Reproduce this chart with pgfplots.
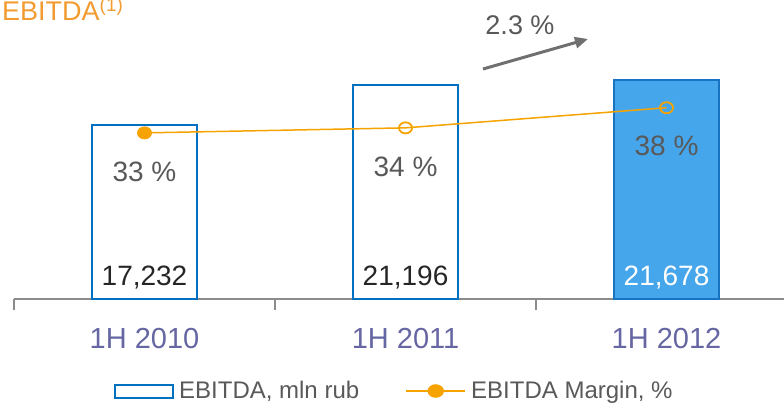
\documentclass[border=0pt]{standalone}
\usepackage{pgfplots}
\pgfplotsset{compat=1.18}
\usetikzlibrary{arrows.meta}
\usepackage{fontspec}
\setmainfont{Liberation Sans}
\definecolor{barblue}{RGB}{0,112,192}
\definecolor{barthreefill}{RGB}{70,166,235}
\definecolor{barthreeedge}{RGB}{25,115,195}
\definecolor{lineorange}{RGB}{246,163,0}
\definecolor{titleorange}{RGB}{242,155,48}
\definecolor{textgray}{RGB}{89,89,89}
\definecolor{textdark}{RGB}{38,38,38}
\definecolor{ticklab}{RGB}{102,102,163}
\definecolor{axisgray}{RGB}{140,140,140}
\definecolor{arrowgray}{RGB}{112,112,112}
\begin{document}
\begin{tikzpicture}[x=1pt,y=1pt]
\begin{axis}[
  at={(14pt,106pt)}, anchor=south west,
  scale only axis, width=770pt, height=299pt,
  xmin=-0.5, xmax=2.45, ymin=0, ymax=29600,
  axis x line*=bottom, axis y line=none,
  x axis line style={draw=axisgray, line width=1.5pt, -},
  xtick={0,1,2}, xticklabels={1H 2010,1H 2011,1H 2012},
  major tick length=0pt,
  minor xtick={-0.5,0.5,1.5},
  minor tick length=11pt, tick align=outside,
  every minor tick/.append style={draw=axisgray, line width=1.5pt},
  xticklabel style={font=\fontsize{29}{29}\selectfont, text=ticklab, anchor=base, yshift=-49pt},
  clip=false,
  legend style={at={(0.494,-0.3077)}, anchor=center, draw=none, fill=none,
    legend columns=2, font=\fontsize{24}{24}\selectfont, text=textgray,
    /tikz/every even column/.append style={column sep=44pt},
    /tikz/every odd column/.append style={column sep=3pt}},
  legend cell align=left,
]
\addlegendimage{legend image code/.code={\draw[draw=barblue, line width=2pt, fill=white] (0pt,-6.5pt) rectangle (58pt,6.5pt);}}
\addlegendentry{EBITDA, mln rub}
\addlegendimage{legend image code/.code={\draw[draw=lineorange, line width=2pt] (0pt,0pt) -- (59pt,0pt); \fill[lineorange] (29.5pt,0pt) ellipse (8pt and 6.5pt);}}
\addlegendentry{EBITDA Margin, \%}
\addplot[ybar, bar width=105pt, bar shift=0pt, draw=barblue, line width=2.5pt, fill=white, forget plot]
  coordinates {(0,17232) (1,21196)};
\addplot[ybar, bar width=105pt, bar shift=0pt, draw=barthreeedge, line width=2.5pt, fill=barthreefill, forget plot]
  coordinates {(2,21678)};
\node[anchor=base, font=\fontsize{28}{28}\selectfont, text=textdark] at (axis cs:0,1386) {17,232};
\node[anchor=base, font=\fontsize{28}{28}\selectfont, text=textdark] at (axis cs:1,1386) {21,196};
\node[anchor=base, font=\fontsize{28}{28}\selectfont, text=white] at (axis cs:2,1386) {21,678};
\node[anchor=base, font=\fontsize{28}{28}\selectfont, text=textgray] at (axis cs:0,11583) {33 \%};
\node[anchor=base, font=\fontsize{28}{28}\selectfont, text=textgray] at (axis cs:1,12078) {34 \%};
\node[anchor=base, font=\fontsize{28}{28}\selectfont, text=textgray] at (axis cs:2,14157) {38 \%};
\end{axis}
\begin{axis}[
  at={(14pt,106pt)}, anchor=south west,
  scale only axis, width=770pt, height=299pt,
  xmin=-0.5, xmax=2.45, ymin=0, ymax=59.4,
  hide axis, clip=false,
]
\addplot[lineorange, line width=1.5pt, mark=o, mark size=6.5pt, mark options={solid, line width=1.8pt, yscale=0.85}]
  coordinates {(0,33) (1,34) (2,38)};
\addplot[only marks, mark=*, mark size=6.8pt, mark options={fill=lineorange, draw=lineorange, yscale=0.85}]
  coordinates {(0,33)};
\end{axis}
\node[anchor=base west, inner sep=0pt, font=\fontsize{27}{27}\selectfont, text=titleorange] at (2pt,384pt) {EBITDA\textsuperscript{(1)}};
\draw[arrowgray, line width=3pt, -{Triangle[length=13pt,width=11pt]}] (483pt,336pt) -- (588pt,366pt);
\node[anchor=base, font=\fontsize{27}{27}\selectfont, text=textgray] at (520pt,370pt) {2.3 \%};
\pgfresetboundingbox
\path[use as bounding box] (0pt,0pt) rectangle (784pt,405pt);
\end{tikzpicture}
\end{document}
